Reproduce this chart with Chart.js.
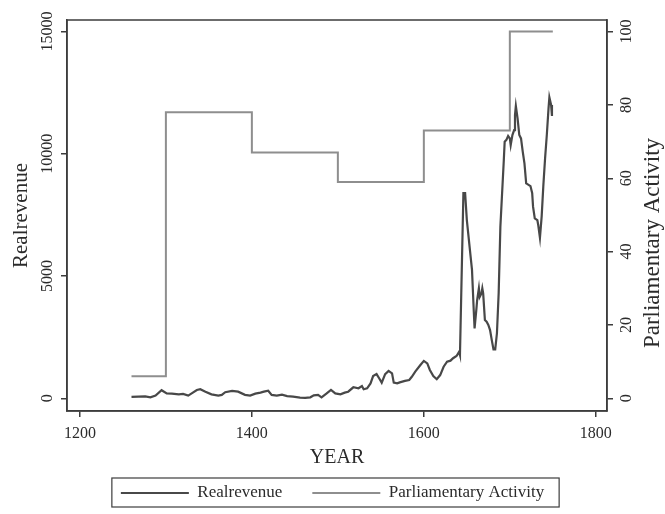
<!DOCTYPE html>
<html>
<head>
<meta charset="utf-8">
<script src="https://cdn.jsdelivr.net/npm/chart.js@4"></script>
<style>
html,body{margin:0;padding:0;background:#fff;}
#wrap{width:665px;height:514px;}
</style>
</head>
<body>
<div id="wrap"><canvas id="myChart" width="665" height="514"></canvas></div>
<script>
const revYears = [
  1260,1268,1276,1282,1288,1295,1301,1307,1315,1320,
  1326,1330,1336,1340,1346,1353,1361,1365,1369,1377,
  1384,1392,1398,1404,1410,1414,1419,1423,1429,1435,
  1441,1448,1456,1462,1468,1472,1477,1481,1487,1492,
  1497,1503,1508,1512,1518,1524,1528,1530,1534,1538,
  1541,1545,1548,1551,1555,1559,1563,1565,1569,1572,
  1578,1583,1586,1590,1596,1600,1604,1607,1611,1615,
  1619,1623,1627,1631,1634,1638,1641,1642,1646,1648,
  1650,1654,1656,1658,1659,1661,1662,1664,1665,1667,
  1668,1669,1671,1673,1675,1677,1679,1681,1683,1685,
  1687,1689,1691,1693,1694,1696,1698,1700,1701,1703,
  1705,1706,1707,1709,1711,1713,1715,1717,1719,1720,
  1724,1726,1727,1729,1732,1733,1735,1737,1739,1741,
  1743,1745,1746,1748,1749
];
const revValues = [
  60,70,80,40,110,330,200,190,160,180,
  110,200,340,370,270,160,110,140,250,300,
  270,140,110,190,230,270,310,140,110,150,
  90,70,30,20,40,120,140,40,200,340,
  200,160,230,270,450,410,500,370,410,610,
  910,990,820,640,990,1120,1020,640,610,650,
  710,750,880,1090,1360,1530,1430,1160,910,780,
  950,1290,1500,1540,1640,1730,1900,1770,8390,8390,
  7290,5930,5250,3610,2860,3610,4020,4500,4150,4290,
  4500,4290,3200,3130,3000,2790,2380,2000,2000,2660,
  4290,7020,8390,9750,10500,10570,10730,10630,10360,10770,
  10970,11590,11960,11450,10770,10630,10090,9610,8790,8770,
  8680,8390,7840,7360,7290,7090,6570,7430,8720,9820,
  10770,11860,12310,12000,11550
];

// parliamentary activity (step series)
const parlYears = [1260,1300,1400,1500,1600,1700,1750];
const parlValues = [6,78,67,59,73,100,100];

const yearTicks = [1200,1400,1600,1800];
const revTicks = [0,5000,10000,15000];
const parlTicks = [0,20,40,60,80,100];

const FONT = '"Liberation Serif", "Times New Roman", serif';
const INK = '#2b2b2b';
const FRAME = '#3c3c3c';

function setTicks(list){
  return function(scale){ scale.ticks = list.map(v => ({value: v})); };
}
const plain = v => String(v);

// frame round the plot, the legend box and the right-hand title
const extras = {
  id: 'extras',
  afterDraw(chart){
    const ctx = chart.ctx;
    const a = chart.chartArea;
    ctx.save();
    ctx.strokeStyle = FRAME;
    ctx.lineWidth = 1.5;
    ctx.strokeRect(a.left, a.top, a.right - a.left, a.bottom - a.top);

    const hb = chart.legend.legendHitBoxes;
    if(hb && hb.length){
      const l = hb[0].left - 9;
      const r = hb[hb.length-1].left + hb[hb.length-1].width + 15;
      const t = hb[0].top - 6.5;
      const b = hb[0].top + hb[0].height + 5.5;
      ctx.lineWidth = 1.2;
      ctx.strokeRect(l, t, r - l, b - t);
    }

    ctx.translate(653, 243);
    ctx.rotate(-Math.PI/2);
    ctx.fillStyle = INK;
    ctx.font = '23px ' + FONT;
    ctx.textAlign = 'center';
    ctx.textBaseline = 'middle';
    ctx.fillText('Parliamentary Activity', 0, 0);
    ctx.restore();
  }
};

function main(){
  const data = {
    datasets: [{
      label: 'Realrevenue',
      data: revYears.map((y,i) => ({x: y, y: revValues[i]})),
      borderColor: '#484848',
      backgroundColor: '#484848',
      borderWidth: 2.2,
      pointRadius: 0,
      tension: 0,
      yAxisID: 'y'
    },{
      label: 'Parliamentary Activity',
      data: parlYears.map((y,i) => ({x: y, y: parlValues[i]})),
      borderColor: '#8e8e8e',
      backgroundColor: '#8e8e8e',
      borderWidth: 2,
      pointRadius: 0,
      stepped: true,
      yAxisID: 'y2'
    }]
  };

  const config = {
    type: 'line',
    data: data,
    plugins: [extras],
    options: {
      responsive: false,
      animation: false,
      devicePixelRatio: 1,
      layout: {padding: {top: 20, left: 0, right: 0, bottom: 2.5}},
      plugins: {
        tooltip: {enabled: false},
        legend: {
          position: 'bottom',
          labels: {
            font: {family: FONT, size: 17},
            color: INK,
            boxWidth: 68,
            boxHeight: 2,
            padding: 30,
            generateLabels: (chart) => Chart.defaults.plugins.legend.labels.generateLabels(chart)
              .map(l => Object.assign(l, {fillStyle: l.strokeStyle, lineWidth: 0}))
          }
        }
      },
      scales: {
        x: {
          type: 'linear',
          min: 1185,
          max: 1813,
          afterBuildTicks: setTicks(yearTicks),
          afterFit: s => { s.height = 43.5; },
          grid: {drawOnChartArea: false, tickLength: 6, color: FRAME, lineWidth: 1.5},
          border: {color: FRAME, width: 1.5},
          ticks: {font: {family: FONT, size: 16}, color: INK, padding: 7, maxRotation: 0, callback: plain},
          title: {display: true, text: 'YEAR', font: {family: FONT, size: 20}, color: INK, padding: {top: 0, bottom: -15.5}}
        },
        y: {
          position: 'left',
          min: -520,
          max: 15475,
          afterBuildTicks: setTicks(revTicks),
          afterFit: s => { s.width = 67; },
          grid: {drawOnChartArea: false, tickLength: 6, color: FRAME, lineWidth: 1.5},
          border: {color: FRAME, width: 1.5},
          ticks: {font: {family: FONT, size: 16}, color: INK, padding: -7, minRotation: 90, maxRotation: 90, crossAlign: 'center', callback: plain},
          title: {display: true, text: 'Realrevenue', font: {family: FONT, size: 21}, color: INK, padding: {top: 9, bottom: 0}}
        },
        y2: {
          position: 'right',
          min: -3.47,
          max: 103.17,
          afterBuildTicks: setTicks(parlTicks),
          afterFit: s => { s.width = 58; },
          grid: {drawOnChartArea: false, tickLength: 6, color: FRAME, lineWidth: 1.5},
          border: {color: FRAME, width: 1.5},
          ticks: {font: {family: FONT, size: 16}, color: INK, padding: 2, minRotation: 90, maxRotation: 90, crossAlign: 'center', callback: plain}
        }
      }
    }
  };

  new Chart(document.getElementById('myChart'), config);
}

main();
</script>
</body>
</html>
